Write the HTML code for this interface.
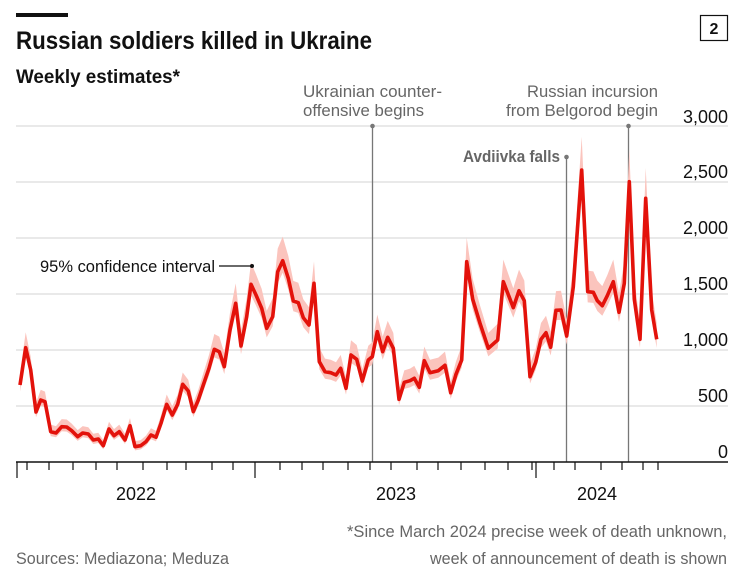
<!DOCTYPE html>
<html><head><meta charset="utf-8"><style>
body{margin:0;background:#fff;}
svg{display:block;font-family:"Liberation Sans Narrow","Liberation Sans",sans-serif;}
</style></head><body>
<svg id="s" width="740" height="582" viewBox="0 0 740 582" xmlns="http://www.w3.org/2000/svg">
<rect x="16" y="13" width="52" height="4" fill="#111"/>
<rect x="700.5" y="15.5" width="27" height="25" fill="none" stroke="#111" stroke-width="1.2"/>
<text x="714" y="34" font-size="16" font-weight="bold" text-anchor="middle" fill="#111">2</text>
<text x="16" y="49" font-size="25" font-weight="bold" fill="#111" textLength="356" lengthAdjust="spacingAndGlyphs">Russian soldiers killed in Ukraine</text>
<text x="16" y="83" font-size="19" font-weight="bold" fill="#111" textLength="164" lengthAdjust="spacingAndGlyphs">Weekly estimates*</text>
<g stroke="#dcdcdc" stroke-width="1.3" id="grid"></g>
<g font-size="18" fill="#111" text-anchor="end">
<text x="728" y="123">3,000</text><text x="728" y="178">2,500</text><text x="728" y="234">2,000</text>
<text x="728" y="290">1,500</text><text x="728" y="346">1,000</text><text x="728" y="402">500</text><text x="728" y="458">0</text>
</g>
<g stroke="#777" stroke-width="1.3">
<line x1="372.5" y1="126" x2="372.5" y2="462"/><line x1="566.5" y1="157" x2="566.5" y2="462"/><line x1="628.5" y1="126" x2="628.5" y2="462"/>
</g>
<g fill="#777"><circle cx="372.5" cy="126" r="2.3"/><circle cx="566.5" cy="157" r="2.3"/><circle cx="628.5" cy="126" r="2.3"/></g>
<g font-size="17" fill="#666">
<text x="303" y="97" textLength="139" lengthAdjust="spacingAndGlyphs">Ukrainian counter-</text>
<text x="303" y="116" textLength="121" lengthAdjust="spacingAndGlyphs">offensive begins</text>
<text x="527" y="97" textLength="131" lengthAdjust="spacingAndGlyphs">Russian incursion</text>
<text x="506" y="116" textLength="152" lengthAdjust="spacingAndGlyphs">from Belgorod begin</text>
<text x="463" y="162" font-weight="bold" textLength="97" lengthAdjust="spacingAndGlyphs">Avdiivka falls</text>
</g>
<path id="band" fill="#fbc4bd"/>
<path id="line" fill="none" stroke="#e3120b" stroke-width="3.6" stroke-linejoin="round"/>
<text x="40" y="272" font-size="17" fill="#111" textLength="175" lengthAdjust="spacingAndGlyphs">95% confidence interval</text>
<line x1="219" y1="266" x2="251" y2="266" stroke="#111" stroke-width="1.2"/><circle cx="252" cy="266" r="2" fill="#111"/>
<line x1="16" y1="462" x2="728" y2="462" stroke="#111" stroke-width="1.5"/>
<g stroke="#111" stroke-width="1.2" id="ticks"></g>
<g font-size="18" fill="#111" text-anchor="middle">
<text x="136" y="500">2022</text><text x="396" y="500">2023</text><text x="597" y="500">2024</text>
</g>
<g font-size="17" fill="#666">
<text x="727" y="537" text-anchor="end" textLength="380" lengthAdjust="spacingAndGlyphs">*Since March 2024 precise week of death unknown,</text>
<text x="727" y="564" text-anchor="end" textLength="297" lengthAdjust="spacingAndGlyphs">week of announcement of death is shown</text>
<text x="16" y="564" textLength="213" lengthAdjust="spacingAndGlyphs">Sources: Mediazona; Meduza</text>
</g>
</svg>
<script>
var NS="http://www.w3.org/2000/svg";
var g=document.getElementById('grid');
[126,182,238,294,350,406].forEach(function(y){var l=document.createElementNS(NS,'line');l.setAttribute('x1',16);l.setAttribute('x2',728);l.setAttribute('y1',y);l.setAttribute('y2',y);g.appendChild(l);});
var t=document.getElementById('ticks');
var tx=[17,27,49,73,96,117,143,167,186,212,233,255,280,302,323,348,370,391,417,438,461,485,508,532,554,575,601,622,643,658];
tx.forEach(function(x){var l=document.createElementNS(NS,'line');l.setAttribute('x1',x);l.setAttribute('x2',x);l.setAttribute('y1',462);l.setAttribute('y2',(x==17||x==255)?478:470);t.appendChild(l);});
var l2=document.createElementNS(NS,'line');l2.setAttribute('x1',536);l2.setAttribute('x2',536);l2.setAttribute('y1',462);l2.setAttribute('y2',478);t.appendChild(l2);
var P=[[20,385],[25.7,347.7],[30.7,370],[36,412],[40.7,400],[45,401.7],[50.7,431.7],[56,433],[61.7,426.7],[66.7,427],[71.7,430.7],[77.7,436.7],[82.7,433],[88.3,434],[93.3,440],[98.3,439],[103.3,445.7],[109,429],[114,435.7],[119.3,431.7],[125,440],[130,425.7],[135,446.7],[140.7,445.7],[146,441.7],[151,435],[156,437.3],[161,423.3],[166.7,404.3],[172.3,415],[177.7,404.3],[182.7,384.3],[188.3,391],[193.3,411.7],[198.3,400],[203.3,385],[209,368.3],[214.3,349.3],[219.3,351.7],[224.3,366.7],[230,330],[235.7,303.3],[241,346],[246.7,316.7],[251,284.3],[256,295],[261.7,308.3],[266.7,328.3],[272.7,316.7],[277.7,271.7],[282.7,260.7],[288.3,278.3],[293.3,301],[298.3,302.7],[303.3,317.7],[309,325],[314,283.3],[319.3,361.7],[325,371.7],[330.7,372.7],[336,375],[340.7,368.3],[346,388.3],[351,355],[356.7,359.3],[362.3,381],[368.3,360],[372.3,356.7],[377.3,331.7],[382.7,351.7],[387.7,337.3],[393.3,348.3],[399,399.3],[404.3,382.3],[410,380.7],[414.3,378.3],[419.3,387.3],[424.3,360.7],[430,372.7],[438.3,370.7],[445,365.3],[450.7,392.7],[456,374.3],[461.7,360],[466.7,261.7],[472.7,299.3],[480,323.3],[488.3,348.3],[497.7,340],[503.3,281.7],[513.3,307.7],[519,290.7],[524.3,300.7],[530,376.7],[535.7,362.3],[541,339.3],[546,332.7],[550.7,347.3],[556,310.3],[561,310],[566.7,336],[573.3,286.7],[581.7,170],[587.7,291.7],[593.3,292.3],[597.3,300.7],[602.3,305.7],[607.3,295.7],[613.3,281.7],[619,312.3],[624.3,283.3],[629.3,181.7],[634.3,299.3],[640,339.3],[645.7,198.3],[651.7,310],[656.7,339.3]];
var d='',up=[],lo=[];
P.forEach(function(p,i){d+=(i?'L':'M')+p[0]+','+p[1];var h=462-p[1];up.push([p[0],p[1]-(4+0.1*h)]);lo.push([p[0],p[1]+(3+0.045*h)]);});
document.getElementById('line').setAttribute('d',d);
var b='';up.forEach(function(p,i){b+=(i?'L':'M')+p[0]+','+p[1];});
lo.reverse().forEach(function(p){b+='L'+p[0]+','+p[1];});
document.getElementById('band').setAttribute('d',b+'Z');
</script>
</body></html>
